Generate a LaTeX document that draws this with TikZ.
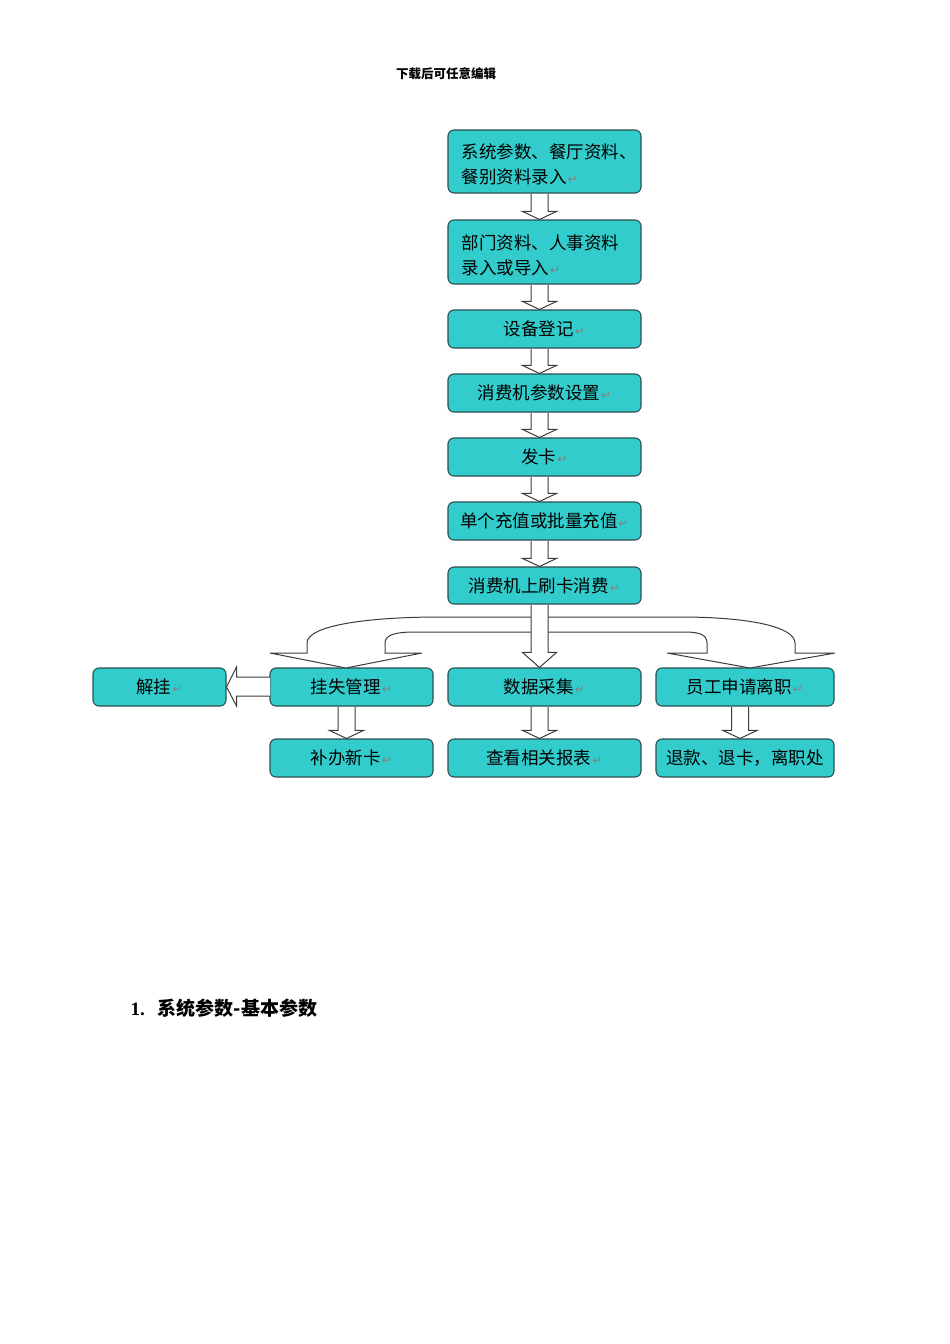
\documentclass[tikz,border=0pt]{standalone}
\usepackage{fontspec}
\setmainfont{Noto Sans CJK SC}
\newfontfamily\symfont{DejaVu Sans}
\newfontfamily\serifnum{Liberation Serif}
\usetikzlibrary{calc}
\definecolor{boxfill}{RGB}{51,204,204}
\definecolor{boxline}{RGB}{45,80,80}
\definecolor{arrline}{RGB}{60,60,60}
\newcommand\pmark{\hspace{1pt}{\color{black!50}\fontsize{12}{12}\symfont ↵}}
% vertical block arrow from node #1 to node #2, head length #3
\newcommand\vblk[3]{%
  \draw[blk] let \p1=(#1.south), \p2=(#2.north) in
    (\x1-5pt-8.5pt,\y1-0.6pt) -- (\x1-5pt-8.5pt,\y2+#3) -- (\x1-5pt-17pt,\y2+#3)
    -- (\x1-5pt,\y2) -- (\x1-5pt+17pt,\y2+#3) -- (\x1-5pt+8.5pt,\y2+#3)
    -- (\x1-5pt+8.5pt,\y1-0.6pt);}
\tikzset{
  box/.style={draw=boxline, fill=boxfill, line width=1.1pt, rounded corners=6pt,
    minimum height=38pt, inner sep=0pt, text=black,
    font=\fontsize{17.5}{25}\selectfont},
  blk/.style={draw=arrline, fill=white, line width=1pt, line join=miter},
}
\begin{document}
\begin{tikzpicture}[x=1pt,y=-1pt]
\useasboundingbox[fill=white] (0,0) rectangle (950,1344);

\node[font=\fontsize{12.5}{14}\selectfont\bfseries] (hdr) at (446,74) {下载后可任意编辑};

% main column
\node[box, minimum width=193pt, minimum height=63pt, text width=176pt, align=left] (n1) at (544.5,161.5)
  {\hspace*{5pt}\rule{0pt}{21pt}系统参数、餐厅资料、\\\hspace*{5pt}餐别资料录入\pmark};
\node[box, minimum width=193pt, minimum height=64pt, text width=176pt, align=left] (n2) at (544.5,252)
  {\hspace*{5pt}\rule{0pt}{21pt}部门资料、人事资料\\\hspace*{5pt}录入或导入\pmark};
\node[box, minimum width=193pt] (n3) at (544.5,329) {设备登记\pmark};
\node[box, minimum width=193pt] (n4) at (544.5,393) {消费机参数设置\pmark};
\node[box, minimum width=193pt] (n5) at (544.5,457) {发卡\pmark};
\node[box, minimum width=193pt] (n6) at (544.5,521) {单个充值或批量充值\pmark};
\node[box, minimum width=193pt, minimum height=37pt] (n7) at (544.5,585.5) {消费机上刷卡消费\pmark};

% middle row
\node[box, minimum width=163pt] (m1) at (351.5,687) {挂失管理\pmark};
\node[box, minimum width=193pt] (m2) at (544.5,687) {数据采集\pmark};
\node[box, minimum width=178pt] (m3) at (745,687) {员工申请离职\pmark};
\node[box, minimum width=133pt] (j) at (159.5,687) {解挂\pmark};

% bottom row
\node[box, minimum width=163pt] (b1) at (351.5,758) {补办新卡\pmark};
\node[box, minimum width=193pt] (b2) at (544.5,758) {查看相关报表\pmark};
\node[box, minimum width=178pt] (b3) at (745,758) {退款、退卡，离职处};

% vertical block arrows
\vblk{n1}{n2}{8pt}
\vblk{n2}{n3}{8pt}
\vblk{n3}{n4}{8pt}
\vblk{n4}{n5}{8pt}
\vblk{n5}{n6}{8pt}
\vblk{n6}{n7}{8pt}
\vblk{m1}{b1}{8pt}
\vblk{m2}{b2}{8pt}
\vblk{m3}{b3}{8pt}

% curved block arrows from the main shaft
\draw[blk] (531,617) -- (440,617) .. controls (370,617) and (307,625) .. (307,643)
  -- (307,653) -- (270,653) -- (346,668) -- (422,653) -- (385,653) -- (385,643)
  .. controls (385,635) and (395,632) .. (415,632) -- (531,632);
\draw[blk] (548,617) -- (680,617) .. controls (750,617) and (795,627) .. (795,643)
  -- (795,653) -- (835,653) -- (750,668) -- (667,653) -- (707,653) -- (707,643)
  .. controls (707,635) and (700,632) .. (685,632) -- (548,632);
\vblk{n7}{m2}{15pt}

% left block arrow
\draw[blk] let \p1=(m1.west), \p2=(j.east) in
  (\x1+0.6pt,\y1+10pt) -- (\x2+10pt,\y1+10pt) -- (\x2+10pt,\y1+20pt) -- (\x2,\y1)
  -- (\x2+10pt,\y1-19pt) -- (\x2+10pt,\y1-9pt) -- (\x1+0.6pt,\y1-9pt);

% section heading
\node[anchor=west, font=\fontsize{19}{21}\selectfont\bfseries] (t1) at (127,1008)
  {{\serifnum 1.}\hspace{13pt}系统参数-基本参数};
\end{tikzpicture}
\end{document}
